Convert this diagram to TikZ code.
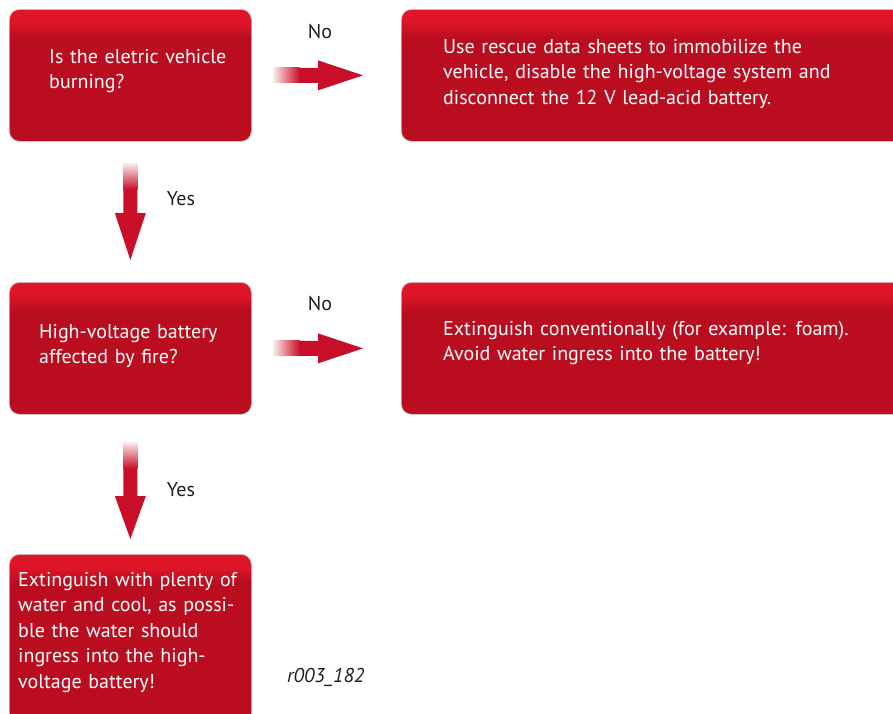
\documentclass[tikz,border=0pt]{standalone}
\usepackage{fontspec}
\setmainfont{PT Sans}
\definecolor{boxred}{RGB}{186,14,32}
\definecolor{boxtop}{RGB}{222,22,40}
\definecolor{arrred}{RGB}{200,14,40}
\definecolor{txtgray}{RGB}{30,30,30}
% box height 132pt: top 13pt bright, blended by 28pt
\pgfdeclareverticalshading{boxshade}{100bp}{color(0bp)=(boxred); color(64.4bp)=(boxred); color(70.1bp)=(boxtop); color(100bp)=(boxtop)}
% box height 170pt
\pgfdeclareverticalshading{boxshadeB}{100bp}{color(0bp)=(boxred); color(66.8bp)=(boxred); color(71.2bp)=(boxtop); color(100bp)=(boxtop)}
\begin{document}
\begin{tikzpicture}[x=1pt,y=-1pt]
\tikzset{
  box/.style={draw=black!18, line width=0.7pt, rounded corners=10pt, shading=boxshade,
    anchor=north west, inner sep=0pt, minimum width=242pt, minimum height=132pt},
  boxtext/.style={anchor=base west, inner sep=0pt, text=white, align=left, text width=#1,
    font=\fontsize{20}{25.5}\selectfont},
  lbl/.style={inner sep=0pt, text=txtgray, font=\fontsize{20}{24}\selectfont},
  arrowfill/.style={fill=arrred},
}
\clip (0,0) rectangle (893,713);
% boxes
\node[box] (q1) at (9,9) {};
\node[box, minimum width=510pt] (a1) at (401,9) {};
\node[box] (q2) at (9,282) {};
\node[box, minimum width=510pt] (a2) at (401,282) {};
\node[box, minimum height=170pt, shading=boxshadeB] (a3) at (9,554) {};
% texts
\node[boxtext=200pt] (t1) at (49,63) {Is the eletric vehicle\\burning?};
\node[boxtext=440pt] (t2) at (443,53) {Use rescue data sheets to immobilize the\\vehicle, disable the high-voltage system and\\disconnect the 12 V lead-acid battery.};
\node[boxtext=210pt] (t3) at (39,338) {High-voltage battery\\affected by fire?};
\node[boxtext=440pt] (t4) at (443,335) {Extinguish conventionally (for example: foam).\\Avoid water ingress into the battery!};
\node[boxtext=230pt] (t5) at (18,586) {Extinguish with plenty of\\water and cool, as possi-\\ble the water should\\ingress into the high-\\voltage battery!};
% labels
\node[lbl] (no1) at (320,32) {No};
\node[lbl] (no2) at (320,304) {No};
\node[lbl] (yes1) at (181,199) {Yes};
\node[lbl] (yes2) at (181,490) {Yes};
\node[lbl, anchor=base west, font=\fontsize{20}{24}\selectfont\itshape] (ref) at (287,682) {r003\_182};
% horizontal arrows q1 -> a1, q2 -> a2
\foreach \src/\dst in {q1/a1, q2/a2}{
  \path ([xshift=22pt]\src.east) coordinate (s) ([xshift=-38pt]\src.east -| \dst.west) coordinate (e);
  \fill[arrowfill] ([yshift=-7.5pt]s) -- ([xshift=-45pt,yshift=-7.5pt]e) -- ([xshift=-45pt,yshift=-15pt]e)
     -- (e) -- ([xshift=-45pt,yshift=15pt]e) -- ([xshift=-45pt,yshift=7.5pt]e) -- ([yshift=7.5pt]s) -- cycle;
  \shade[left color=arrred!10, right color=arrred] ([yshift=-7.5pt]s) rectangle ([xshift=26pt,yshift=7.5pt]s);
}
% vertical arrows q1 -> q2, q2 -> a3
\path ([yshift=-22pt]q1.south) coordinate (s1) ([yshift=22pt]q2.north) coordinate (e1);
\path ([yshift=-28pt]q2.south) coordinate (s2) ([yshift=15pt]a3.north) coordinate (e2);
\foreach \s/\e/\h in {s1/e1/47, s2/e2/43}{
  \fill[arrowfill] ([xshift=-7pt]\s) -- ([xshift=-7pt,yshift=\h pt]\e) -- ([xshift=-15.5pt,yshift=\h pt]\e)
     -- (\e) -- ([xshift=15.5pt,yshift=\h pt]\e) -- ([xshift=7pt,yshift=\h pt]\e) -- ([xshift=7pt]\s) -- cycle;
  \shade[top color=arrred!10, bottom color=arrred] ([xshift=-7pt]\s) rectangle ([xshift=7pt,yshift=-26pt]\s);
}
\end{tikzpicture}
\end{document}
